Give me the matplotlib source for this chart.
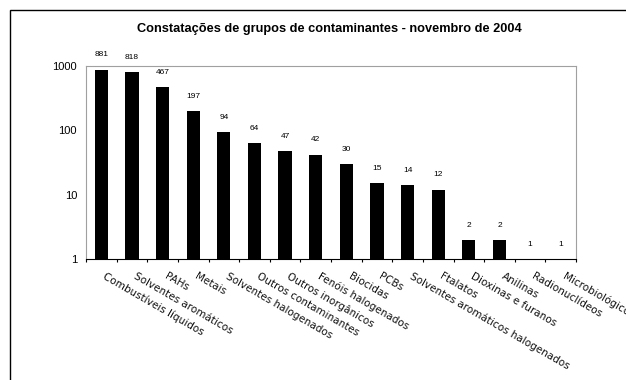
import matplotlib
matplotlib.use("Agg")
import matplotlib.pyplot as plt
from matplotlib.patches import Rectangle
from matplotlib.ticker import FixedLocator, NullLocator
import matplotlib.transforms as mtrans

categories = ["Combustíveis líquidos", "Solventes aromáticos", "PAHs", "Metais",
              "Solventes halogenados", "Outros contaminantes", "Outros inorgânicos",
              "Fenóis halogenados", "Biocidas", "PCBs", "Solventes aromáticos halogenados",
              "Ftalatos", "Dioxinas e furanos", "Anilinas", "Radionuclídeos", "Microbiológicos"]
values = [881, 818, 467, 197, 94, 64, 47, 42, 30, 15, 14, 12, 2, 2, 1, 1]
yticks = [1, 10, 100, 1000]
title = "Constatações de grupos de contaminantes - novembro de 2004"

W, H = 626, 380
fig = plt.figure(figsize=(W/100, H/100), dpi=100)
fig.patches.append(Rectangle((10/W, -0.1), 1.2, 1 - 10/H + 0.1, transform=fig.transFigure,
                             fill=False, edgecolor="black", linewidth=1.0))

ax = fig.add_axes([86/W, 1 - 259/H, (576-86)/W, (259-66)/H])
x = list(range(len(categories)))
ax.bar(x, values, width=0.43, color="black", bottom=0)
ax.set_yscale("log")
ax.set_ylim(1, 1000)
ax.set_xlim(-0.5, len(categories) - 0.5)
ax.yaxis.set_major_locator(FixedLocator(yticks))
ax.yaxis.set_minor_locator(NullLocator())
ax.set_yticks(yticks)
ax.set_yticklabels([str(t) for t in yticks], fontsize=8, family="Liberation Sans")

ax.set_xticks([i + 0.5 for i in range(-1, len(categories))])
ax.set_xticklabels([])
ax.tick_params(axis="x", direction="out", length=2.2, width=0.8)
ax.tick_params(axis="y", length=0, pad=6.5)

for s in ["top", "right", "left"]:
    ax.spines[s].set_color("#a0a0a0")
ax.spines["bottom"].set_color("black")

for xi, v in zip(x, values):
    ax.annotate(str(v), (xi, v), xytext=(0, 10.5), textcoords="offset points",
                ha="center", va="center", fontsize=6, family="Liberation Sans")

for xi, c in zip(x, categories):
    tr = ax.get_xaxis_transform() + mtrans.ScaledTranslation(2/72, -12/72, fig.dpi_scale_trans)
    ax.text(xi, 0, c, transform=tr, rotation=-30, rotation_mode="anchor",
            ha="left", va="center", fontsize=7.5, family="DejaVu Sans", color="#111111")

fig.text(329/W, 1 - 29/H, title, ha="center", va="center", fontsize=9.2,
         fontweight="bold", family="Liberation Sans")

fig.savefig("out.png", dpi=100)
